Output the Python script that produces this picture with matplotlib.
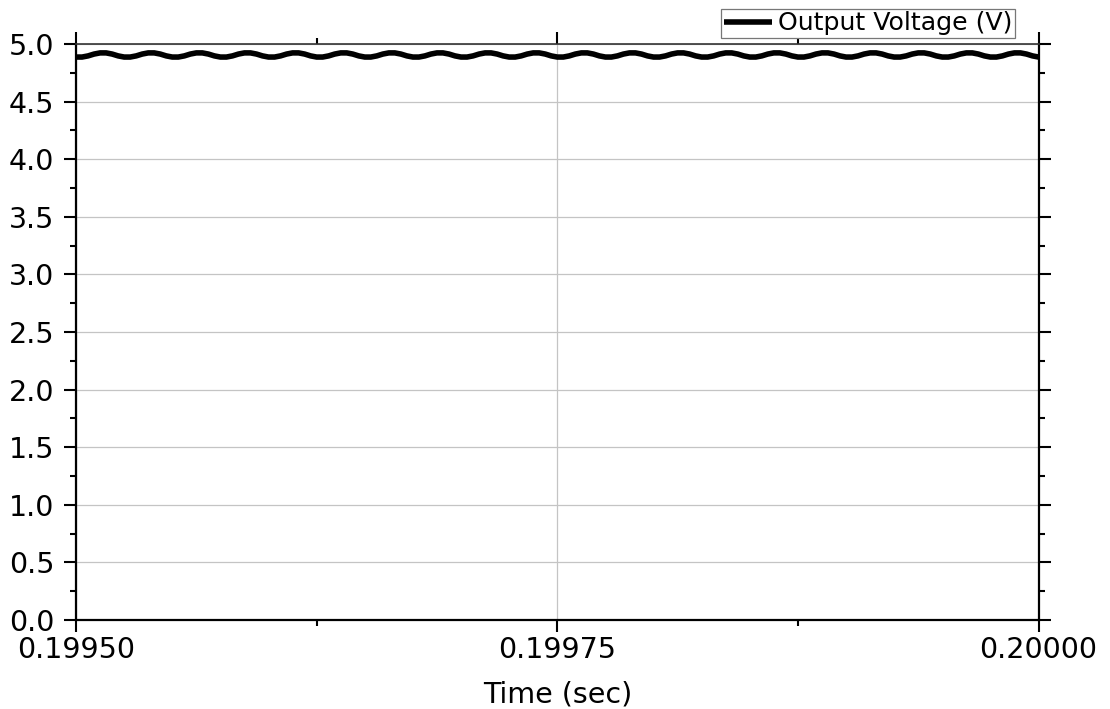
import numpy as np
import matplotlib
matplotlib.use("Agg")
import matplotlib.pyplot as plt
from matplotlib.ticker import MultipleLocator

# Simulated output voltage over the last 0.5 ms (time offsets in microseconds)
time_us = [
    0, 3.125, 6.25, 9.375, 12.5, 15.625, 18.75, 21.875,
    25, 28.125, 31.25, 34.375, 37.5, 40.625, 43.75, 46.875,
    50, 53.125, 56.25, 59.375, 62.5, 65.625, 68.75, 71.875,
    75, 78.125, 81.25, 84.375, 87.5, 90.625, 93.75, 96.875,
    100, 103.125, 106.25, 109.375, 112.5, 115.625, 118.75, 121.875,
    125, 128.125, 131.25, 134.375, 137.5, 140.625, 143.75, 146.875,
    150, 153.125, 156.25, 159.375, 162.5, 165.625, 168.75, 171.875,
    175, 178.125, 181.25, 184.375, 187.5, 190.625, 193.75, 196.875,
    200, 203.125, 206.25, 209.375, 212.5, 215.625, 218.75, 221.875,
    225, 228.125, 231.25, 234.375, 237.5, 240.625, 243.75, 246.875,
    250, 253.125, 256.25, 259.375, 262.5, 265.625, 268.75, 271.875,
    275, 278.125, 281.25, 284.375, 287.5, 290.625, 293.75, 296.875,
    300, 303.125, 306.25, 309.375, 312.5, 315.625, 318.75, 321.875,
    325, 328.125, 331.25, 334.375, 337.5, 340.625, 343.75, 346.875,
    350, 353.125, 356.25, 359.375, 362.5, 365.625, 368.75, 371.875,
    375, 378.125, 381.25, 384.375, 387.5, 390.625, 393.75, 396.875,
    400, 403.125, 406.25, 409.375, 412.5, 415.625, 418.75, 421.875,
    425, 428.125, 431.25, 434.375, 437.5, 440.625, 443.75, 446.875,
    450, 453.125, 456.25, 459.375, 462.5, 465.625, 468.75, 471.875,
    475, 478.125, 481.25, 484.375, 487.5, 490.625, 493.75, 496.875,
    500,
]
voltage = [
    4.887, 4.887, 4.897, 4.913, 4.923, 4.923, 4.913, 4.897,
    4.887, 4.887, 4.897, 4.913, 4.923, 4.923, 4.913, 4.897,
    4.887, 4.887, 4.897, 4.913, 4.923, 4.923, 4.913, 4.897,
    4.887, 4.887, 4.897, 4.913, 4.923, 4.923, 4.913, 4.897,
    4.887, 4.887, 4.897, 4.913, 4.923, 4.923, 4.913, 4.897,
    4.887, 4.887, 4.897, 4.913, 4.923, 4.923, 4.913, 4.897,
    4.887, 4.887, 4.897, 4.913, 4.923, 4.923, 4.913, 4.897,
    4.887, 4.887, 4.897, 4.913, 4.923, 4.923, 4.913, 4.897,
    4.887, 4.887, 4.897, 4.913, 4.923, 4.923, 4.913, 4.897,
    4.887, 4.887, 4.897, 4.913, 4.923, 4.923, 4.913, 4.897,
    4.887, 4.887, 4.897, 4.913, 4.923, 4.923, 4.913, 4.897,
    4.887, 4.887, 4.897, 4.913, 4.923, 4.923, 4.913, 4.897,
    4.887, 4.887, 4.897, 4.913, 4.923, 4.923, 4.913, 4.897,
    4.887, 4.887, 4.897, 4.913, 4.923, 4.923, 4.913, 4.897,
    4.887, 4.887, 4.897, 4.913, 4.923, 4.923, 4.913, 4.897,
    4.887, 4.887, 4.897, 4.913, 4.923, 4.923, 4.913, 4.897,
    4.887, 4.887, 4.897, 4.913, 4.923, 4.923, 4.913, 4.897,
    4.887, 4.887, 4.897, 4.913, 4.923, 4.923, 4.913, 4.897,
    4.887, 4.887, 4.897, 4.913, 4.923, 4.923, 4.913, 4.897,
    4.887, 4.887, 4.897, 4.913, 4.923, 4.923, 4.913, 4.897,
    4.887,
]
t_start = 0.19950

x_ticks = [0.19950, 0.19975, 0.20000]
x_tick_labels = ["0.19950", "0.19975", "0.20000"]
y_ticks = [0.0, 0.5, 1.0, 1.5, 2.0, 2.5, 3.0, 3.5, 4.0, 4.5, 5.0]
y_tick_labels = ["0.0", "0.5", "1.0", "1.5", "2.0", "2.5", "3.0", "3.5", "4.0", "4.5", "5.0"]

series_label = "Output Voltage (V)"
x_label = "Time (sec)"

time_s = t_start + np.asarray(time_us) * 1e-6

plt.rcParams["font.family"] = ["DejaVu Sans"]

fig = plt.figure(figsize=(11.10, 7.09), dpi=100)
ax = fig.add_axes([0.0685, 0.1255, 0.8671, 0.8124])

ax.plot(time_s, voltage, color="black", lw=4.0, solid_joinstyle="round",
        solid_capstyle="butt", label=series_label, zorder=3)

ax.set_xlim(x_ticks[0], x_ticks[-1])
ax.set_ylim(y_ticks[0], y_ticks[-1])
ax.set_xticks(x_ticks)
ax.set_xticklabels(x_tick_labels)
ax.set_yticks(y_ticks)
ax.set_yticklabels(y_tick_labels)
ax.xaxis.set_minor_locator(MultipleLocator(0.000125))
ax.yaxis.set_minor_locator(MultipleLocator(0.25))

ax.grid(True, which="major", color="#c4c4c4", lw=0.9, zorder=0)
ax.set_axisbelow(True)

for side in ["left", "bottom", "right"]:
    ax.spines[side].set_linewidth(1.6)
    ax.spines[side].set_color("black")
ax.spines["top"].set_linewidth(1.2)
ax.spines["top"].set_color("#333333")

ax.tick_params(which="both", direction="out", top=True, right=True,
               color="black", width=1.5)
ax.tick_params(which="major", length=8.6)
ax.tick_params(which="minor", length=4.6)
ax.tick_params(axis="x", which="major", labelsize=20.5, pad=3)
ax.tick_params(axis="y", which="major", labelsize=20.5, pad=7)

ax.set_xlabel(x_label, fontsize=20.5, labelpad=12)

fig.legend(loc="lower right", bbox_to_anchor=(0.9144, 0.9464),
           bbox_transform=fig.transFigure, borderaxespad=0,
           fontsize=18.2, frameon=True, fancybox=False, framealpha=1,
           edgecolor="#777777", borderpad=0.1, handlelength=1.9,
           handletextpad=0.25, handleheight=0.6)
fig.legends[0].get_frame().set_linewidth(0.9)

fig.savefig("out.png", dpi=100, facecolor="white")
